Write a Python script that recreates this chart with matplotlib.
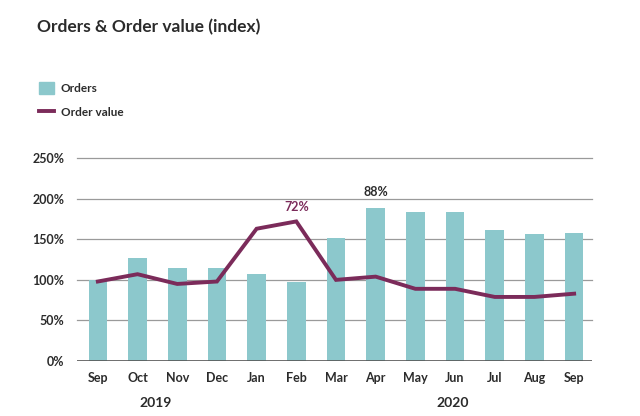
import matplotlib.pyplot as plt
import matplotlib.transforms as mtransforms
from matplotlib.patches import Patch
from matplotlib.lines import Line2D

plt.rcParams["font.family"] = ["Lato", "DejaVu Sans"]

months = ["Sep", "Oct", "Nov", "Dec", "Jan", "Feb", "Mar",
          "Apr", "May", "Jun", "Jul", "Aug", "Sep"]
orders = [100, 127, 115, 115, 107, 98, 152, 189, 183, 183, 161, 157, 158]
order_value = [98, 107, 95, 98, 163, 172, 100, 104, 89, 89, 79, 79, 83]
yticks = [0, 50, 100, 150, 200, 250]
years = ["2019", "2020"]
year_pos = [1.45, 8.94]

bar_col = "#8cc8cc"
line_col = "#7b2b5a"
txt_col = "#2b2b2b"

fig = plt.figure(figsize=(6.4, 4.16), dpi=100)
ax = fig.add_axes([0.12, 0.132, 0.805, 0.488])

x = list(range(len(months)))
ax.bar(x, orders, width=0.47, color=bar_col, zorder=2)
ax.plot(x, order_value, color=line_col, lw=2.8, zorder=3,
        solid_joinstyle="miter")

ax.set_xlim(-0.53, 12.45)
ax.set_ylim(0, 250)
ax.set_yticks(yticks)
ax.set_yticklabels([f"{v}%" for v in yticks])
ax.set_xticks(x)
ax.set_xticklabels(months)
for lab in ax.get_xticklabels() + ax.get_yticklabels():
    lab.set_fontweight("bold")
    lab.set_fontsize(9)
    lab.set_color(txt_col)
ax.tick_params(length=0)
ax.tick_params(axis="y", pad=9)
ax.tick_params(axis="x", pad=8)

for v in yticks[1:]:
    ax.axhline(v, color="#9a9a9a", lw=0.9, zorder=1, clip_on=False)
ax.axhline(0, color="#555555", lw=1.2, zorder=4)
for s in ax.spines.values():
    s.set_visible(False)

# annotations
ax.text(5, 172 + 10, "72%", color=line_col, fontsize=9, fontweight="bold",
        ha="center", va="bottom")
ax.text(7, 189 + 12, "88%", color=txt_col, fontsize=9, fontweight="bold",
        ha="center", va="bottom")

# year labels
trans = mtransforms.blended_transform_factory(ax.transData, ax.transAxes)
for yr, pos in zip(years, year_pos):
    ax.text(pos, -0.205, yr, transform=trans, ha="center", va="center",
            fontsize=10, fontweight="bold", color=txt_col)

fig.text(0.058, 0.935, "Orders & Order value (index)", fontsize=12.5,
         fontweight="bold", color=txt_col, va="center")

handles = [Patch(color=bar_col), Line2D([0], [0], color=line_col, lw=2.8)]
leg = fig.legend(handles, ["Orders", "Order value"], loc="upper left",
                 bbox_to_anchor=(0.045, 0.828), frameon=False,
                 prop={"weight": "bold", "size": 8.5}, handlelength=1.2,
                 handleheight=1.2, labelspacing=1.0, handletextpad=0.6)
for t in leg.get_texts():
    t.set_color(txt_col)

fig.savefig("out.png", dpi=100)
